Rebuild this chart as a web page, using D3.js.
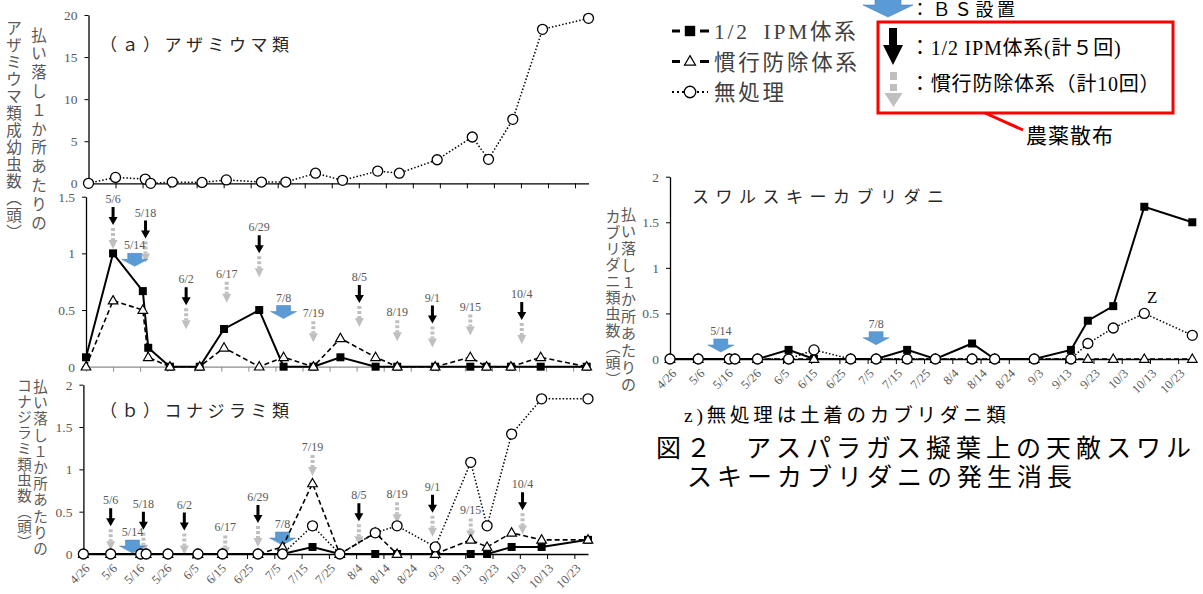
<!DOCTYPE html>
<html>
<head>
<meta charset="utf-8">
<script src="https://cdn.jsdelivr.net/npm/d3@7"></script>
<style>
  body { margin: 0; background: #fff; }
  text { font-family: "Liberation Serif", "Noto Sans CJK JP", serif; }
</style>
</head>
<body>
<div id="holder"></div>
<script>
// survey dates (same for all panels)
const surveyDates = ["4/26", "5/6", "5/17", "5/19", "5/27", "6/7", "6/16", "6/29", "7/8", "7/19",
                     "7/29", "8/11", "8/19", "9/2", "9/15", "9/21", "9/30", "10/11", "10/28"];
const tickDates = ["4/26", "5/6", "5/16", "5/26", "6/5", "6/15", "6/25", "7/5", "7/15", "7/25",
                   "8/4", "8/14", "8/24", "9/3", "9/13", "9/23", "10/3", "10/13", "10/23"];

// (a) thrips
const thripsUntreated = [0, 0.7, 0.5, 0, 0.15, 0.1, 0.4, 0.15, 0.15, 1.2, 0.35, 1.45, 1.2, 2.8, 5.5, 2.85, 7.6, 18.3, 19.6];
const thripsIpm = [0.083, 1, 0.667, 0.167, 0, 0, 0.333, 0.5, 0, 0, 0.083, 0, 0, 0, 0, 0, 0, 0, 0];
const thripsConv = [0, 0.583, 0.5, 0.083, 0, 0, 0.167, 0, 0.083, 0, 0.25, 0.083, 0, 0, 0.083, 0, 0, 0.083, 0];

// (b) whiteflies
const whiteflyIpm = [0, 0, 0, 0, 0, 0, 0, 0, 0, 0.083, 0, 0, 0, 0, 0, 0, 0.083, 0.083, 0.167];
const whiteflyConv = [0, 0, 0, 0, 0, 0, 0, 0, 0.083, 0.833, 0, 0.25, 0, 0, 0.167, 0.083, 0.25, 0.167, 0.167];
const whiteflyUntreated = [0, 0, 0, 0, 0, 0, 0, 0, 0, 0.333, 0, 0.25, 0.333, 0.083, 1.083, 0.333, 1.417, 1.833, 1.833];

// swirskii mites
const miteIpm = [0, 0, 0, 0, 0, 0.1, 0, 0, 0, 0.1, 0, 0.17, 0, 0, 0.1, 0.42, 0.58, 1.67, 1.5];
const miteConv = [0, 0, 0, 0, 0, 0, 0, 0, 0, 0, 0, 0, 0, 0, 0, 0, 0, 0, 0];
const miteUntreated = [0, 0, 0, 0, 0, 0, 0.1, 0, 0, 0, 0, 0, 0, 0, 0, 0.17, 0.34, 0.5, 0.26];

// pesticide sprays and BS placement
const sprayDates = ["5/6", "5/18", "6/2", "6/17", "6/29", "7/19", "8/5", "8/19", "9/1", "9/15", "10/4"];
const sprayIpm = [true, true, true, false, true, false, true, false, true, false, true];
const sprayConv = [true, true, true, true, true, true, true, true, true, true, true];
const bsDates = ["5/14", "7/8"];

const legendLabels = ["1/2\u2002IPM体系", "慣行防除体系", "無処理"];

// where the annotation stacks start (value units, hand placed as in the figure)
const aLowSprayTop = [1.41, 1.29, 0.70, 0.75, 1.16, 0.40, 0.72, 0.41, 0.54, 0.46, 0.57];
const aLowBsTop = [1.0, 0.54];
const bSprayTop = [0.54, 0.50, 0.49, 0.22, 0.58, 1.17, 0.60, 0.61, 0.70, 0.42, 0.73];
const bBsTop = [0.165, 0.26];
const miteBsTop = [0.22, 0.30];

const md = s => { const [m, d] = s.split("/").map(Number); return new Date(2017, m - 1, d); };
const GRAY = "#595959";
const BLUE = "#5b9bd5";
const FONT = '"Liberation Serif", "Noto Sans CJK JP", serif';

const svg = d3.select("#holder").append("svg").attr("width", 1203).attr("height", 594);

const styles = {
  ipm: { width: 2, dash: null },
  conv: { width: 1.6, dash: "5,3" },
  untreated: { width: 1.5, dash: "1.5,2" }
};

function drawMarker(g, kind, cx, cy, s) {
  s = s || 1;
  if (kind === "ipm") {
    g.append("rect").attr("x", cx - 4 * s).attr("y", cy - 4 * s).attr("width", 8 * s).attr("height", 8 * s).attr("fill", "#000");
  } else if (kind === "conv") {
    g.append("path").attr("d", d3.symbol(d3.symbolTriangle, 40 * s * s)()).attr("transform", `translate(${cx},${cy + 0.5})`)
      .attr("fill", "#fff").attr("stroke", "#000").attr("stroke-width", 1.2);
  } else {
    g.append("circle").attr("cx", cx).attr("cy", cy).attr("r", 5 * s).attr("fill", "#fff").attr("stroke", "#000").attr("stroke-width", 1.3);
  }
}

function blackArrow(g, cx, top) {
  g.append("path").attr("fill", "#000")
    .attr("d", `M${cx - 1.5},${top}L${cx + 1.5},${top}L${cx + 1.5},${top + 10}L${cx + 4.5},${top + 10}L${cx},${top + 18}L${cx - 4.5},${top + 10}L${cx - 1.5},${top + 10}Z`);
}

function grayArrow(g, cx, top) {
  g.append("line").attr("x1", cx).attr("x2", cx).attr("y1", top).attr("y2", top + 12)
    .attr("stroke", "#bfbfbf").attr("stroke-width", 4).attr("stroke-dasharray", "3,2");
  g.append("path").attr("fill", "#bfbfbf")
    .attr("d", `M${cx - 4.5},${top + 12}L${cx + 4.5},${top + 12}L${cx},${top + 21}Z`);
}

function blueArrow(g, cx, top) {
  g.append("path").attr("fill", BLUE).attr("stroke", "#4a7ebb").attr("stroke-width", 0.5)
    .attr("d", `M${cx - 7},${top}L${cx + 7},${top}L${cx + 7},${top + 6}L${cx + 13},${top + 6}L${cx},${top + 13}L${cx - 13},${top + 6}L${cx - 7},${top + 6}Z`);
}

// vertical Japanese text, one glyph per step
function verticalText(g, col) {
  const vert = { "（": "\uFE35", "）": "\uFE36" };
  Array.from(col.text).forEach((c, i) => {
    g.append("text").attr("x", col.x).attr("y", col.y + i * col.step)
      .attr("text-anchor", "middle").attr("dominant-baseline", "central")
      .attr("font-size", col.size).attr("fill", GRAY).text(vert[c] || c);
  });
}

function drawPanel(cfg) {
  const g = svg.append("g");
  const x = d3.scaleTime().domain([md("4/26"), md("10/28")]).range(cfg.xRange);
  const y = d3.scaleLinear().domain(cfg.yDomain).range(cfg.yRange);

  // x axis
  const xAxis = g.append("g").attr("transform", `translate(0,${cfg.yRange[0]})`)
    .call(d3.axisBottom(x).tickValues(tickDates.map(md)).tickSize(5).tickSizeOuter(0)
      .tickFormat((d, i) => cfg.xLabels ? tickDates[i] : ""));
  xAxis.attr("font-family", FONT);
  xAxis.select(".domain").attr("stroke", cfg.xAxisColor || "#000").attr("stroke-width", 1.3);
  xAxis.selectAll(".tick line").attr("stroke", cfg.xAxisColor || "#000");
  xAxis.selectAll("text").attr("fill", GRAY).attr("font-size", 12.5)
    .attr("x", -6).attr("y", 11).attr("dy", "0.35em")
    .attr("transform", "rotate(-45)").attr("text-anchor", "end");

  // y axis
  const yAxis = g.append("g").attr("transform", `translate(${cfg.xRange[0]},0)`)
    .call(d3.axisLeft(y).tickValues(cfg.yTicks).tickSize(4).tickSizeOuter(0).tickPadding(7).tickFormat(d => String(d)));
  yAxis.attr("font-family", FONT);
  yAxis.select(".domain").attr("stroke", "#000").attr("stroke-width", 1.3);
  yAxis.selectAll("text").attr("fill", GRAY).attr("font-size", 13.5);

  // annotations
  if (cfg.sprayTop) {
    sprayDates.forEach((s, i) => {
      const cx = x(md(s));
      const top = y(cfg.sprayTop[i]);
      g.append("text").attr("x", cx).attr("y", top - 4).attr("text-anchor", "middle")
        .attr("font-size", 12).attr("fill", GRAY).text(s);
      let t = top;
      if (sprayIpm[i]) { blackArrow(g, cx, t); t += 21; }
      if (sprayConv[i]) grayArrow(g, cx, t);
    });
  }
  if (cfg.bsTop) {
    bsDates.forEach((s, i) => {
      const cx = x(md(s));
      const top = y(cfg.bsTop[i]);
      g.append("text").attr("x", cx).attr("y", top - 4).attr("text-anchor", "middle")
        .attr("font-size", 12).attr("fill", GRAY).text(s);
      blueArrow(g, cx, top);
    });
  }

  // lines
  cfg.series.forEach(sr => {
    const line = d3.line().x((d, i) => x(md(surveyDates[i]))).y(d => y(d));
    g.append("path").datum(sr.values).attr("d", line).attr("fill", "none")
      .attr("stroke", "#000").attr("stroke-width", styles[sr.kind].width)
      .attr("stroke-dasharray", styles[sr.kind].dash);
  });
  // markers
  cfg.series.forEach(sr => {
    sr.values.forEach((v, i) => drawMarker(g, sr.kind, x(md(surveyDates[i])), y(v)));
  });

  cfg.yTitle.forEach(col => verticalText(g, col));

  if (cfg.title) {
    g.append("text").attr("x", cfg.title.x).attr("y", cfg.title.y).attr("font-size", 17)
      .style("letter-spacing", cfg.title.ls + "px").attr("fill", "#262626").text(cfg.title.text);
  }
  return { x, y };
}

drawPanel({
  xRange: [88.5, 588.5], yRange: [183.3, 15], yDomain: [0, 20], yTicks: [0, 5, 10, 15, 20], xLabels: false,
  series: [{ values: thripsUntreated, kind: "untreated" }],
  yTitle: [
    { x: 39, y: 35, step: 18.8, size: 15.5, text: "払い落し１か所あたりの" },
    { x: 14, y: 28, step: 17, size: 15.5, text: "アザミウマ類成幼虫数（頭）" }
  ],
  title: { x: 100, y: 51, ls: 4.5, text: "（ａ）アザミウマ類" }
});

drawPanel({
  xRange: [86, 586.7], yRange: [366.7, 196.7], yDomain: [0, 1.5], yTicks: [0, 0.5, 1, 1.5], xLabels: false,
  xAxisColor: "#8c8c8c",
  series: [{ values: thripsIpm, kind: "ipm" }, { values: thripsConv, kind: "conv" }],
  sprayTop: aLowSprayTop, bsTop: aLowBsTop,
  yTitle: []
});

drawPanel({
  xRange: [83.4, 588], yRange: [554, 384.7], yDomain: [0, 2], yTicks: [0, 0.5, 1, 1.5, 2], xLabels: true,
  series: [{ values: whiteflyIpm, kind: "ipm" }, { values: whiteflyConv, kind: "conv" }, { values: whiteflyUntreated, kind: "untreated" }],
  sprayTop: bSprayTop, bsTop: bBsTop,
  yTitle: [
    { x: 40.5, y: 387, step: 16.2, size: 14.5, text: "払い落し１か所あたりの" },
    { x: 24.5, y: 386, step: 15.7, size: 14.5, text: "コナジラミ類虫数（頭）" }
  ],
  title: { x: 100, y: 417, ls: 4.5, text: "（ｂ）コナジラミ類" }
});

const mite = drawPanel({
  xRange: [670, 1192.3], yRange: [359, 176.7], yDomain: [0, 2], yTicks: [0, 0.5, 1, 1.5, 2], xLabels: true,
  series: [{ values: miteIpm, kind: "ipm" }, { values: miteConv, kind: "conv" }, { values: miteUntreated, kind: "untreated" }],
  bsTop: miteBsTop,
  yTitle: [
    { x: 628.5, y: 215, step: 17, size: 15, text: "払い落し１か所あたりの" },
    { x: 613, y: 216.5, step: 16.3, size: 15, text: "カブリダニ類虫数（頭）" }
  ],
  title: { x: 692, y: 203, ls: 6.5, text: "スワルスキーカブリダニ" }
});

// "Z" mark above untreated peak
svg.append("text").attr("x", mite.x(md("10/11")) + 8).attr("y", 303).attr("text-anchor", "middle")
  .attr("font-size", 17).attr("fill", "#000").text("Z");

// legend for lines
const legendG = svg.append("g");
legendLabels.forEach((lab, i) => {
  const kind = ["ipm", "conv", "untreated"][i];
  const cy = 31 + i * 30.5;
  if (kind === "untreated") {
    legendG.append("line").attr("x1", 672).attr("x2", 708).attr("y1", cy).attr("y2", cy)
      .attr("stroke", "#000").attr("stroke-width", 2.2).attr("stroke-dasharray", "2,3");
  } else {
    [[672, 680], [700, 709]].forEach(([a, b]) => legendG.append("line").attr("x1", a).attr("x2", b)
      .attr("y1", cy).attr("y2", cy).attr("stroke", "#000").attr("stroke-width", 3));
  }
  drawMarker(legendG, kind, 690, cy, kind === "ipm" ? 1.3 : 1.15);
  legendG.append("text").attr("x", 714).attr("y", cy + 8).attr("font-size", 21.5)
    .style("letter-spacing", "2.8px").attr("fill", "#404040").text(lab);
});

// BS legend
svg.append("path").attr("fill", BLUE).attr("stroke", "#4a7ebb").attr("stroke-width", 0.6)
  .attr("d", "M875,-6L901,-6L901,5L913,5L888,17L863,5L875,5Z");
svg.append("text").attr("x", 911).attr("y", 16).attr("font-size", 18).style("letter-spacing", "3.5px")
  .attr("fill", "#000").text("：ＢＳ設置");

// spray legend box
svg.append("rect").attr("x", 878).attr("y", 22).attr("width", 295).attr("height", 91)
  .attr("fill", "none").attr("stroke", "#ff0000").attr("stroke-width", 3);
svg.append("path").attr("fill", "#000")
  .attr("d", "M889,28L897,28L897,45L903,45L893,65L883,45L889,45Z");
svg.append("text").attr("x", 910).attr("y", 55).attr("font-size", 20).style("letter-spacing", "0.8px")
  .attr("fill", "#000").text("：1/2 IPM体系(計５回)");
[[72, 80], [84, 91]].forEach(([a, b]) => svg.append("rect").attr("x", 890).attr("y", a)
  .attr("width", 7).attr("height", b - a).attr("fill", "#bfbfbf"));
svg.append("path").attr("fill", "#bfbfbf").attr("d", "M884.5,93L902.5,93L893.5,107Z");
svg.append("text").attr("x", 910).attr("y", 91).attr("font-size", 20).style("letter-spacing", "0.8px")
  .attr("fill", "#000").text("：慣行防除体系（計10回）");
svg.append("line").attr("x1", 985).attr("y1", 113).attr("x2", 1023).attr("y2", 130)
  .attr("stroke", "#ff0000").attr("stroke-width", 3);
svg.append("text").attr("x", 1026).attr("y", 143).attr("font-size", 21).style("letter-spacing", "1px")
  .attr("fill", "#000").text("農薬散布");

// footnote and caption
svg.append("text").attr("x", 684).attr("y", 422).attr("font-size", 19.5).style("letter-spacing", "3.8px")
  .attr("fill", "#000").text("z)無処理は土着のカブリダニ類");
svg.append("text").attr("x", 656).attr("y", 457).attr("font-size", 25).style("letter-spacing", "5px")
  .attr("fill", "#000").text("図２　アスパラガス擬葉上の天敵スワル");
svg.append("text").attr("x", 687).attr("y", 486).attr("font-size", 25).style("letter-spacing", "5px")
  .attr("fill", "#000").text("スキーカブリダニの発生消長");
</script>
</body>
</html>
